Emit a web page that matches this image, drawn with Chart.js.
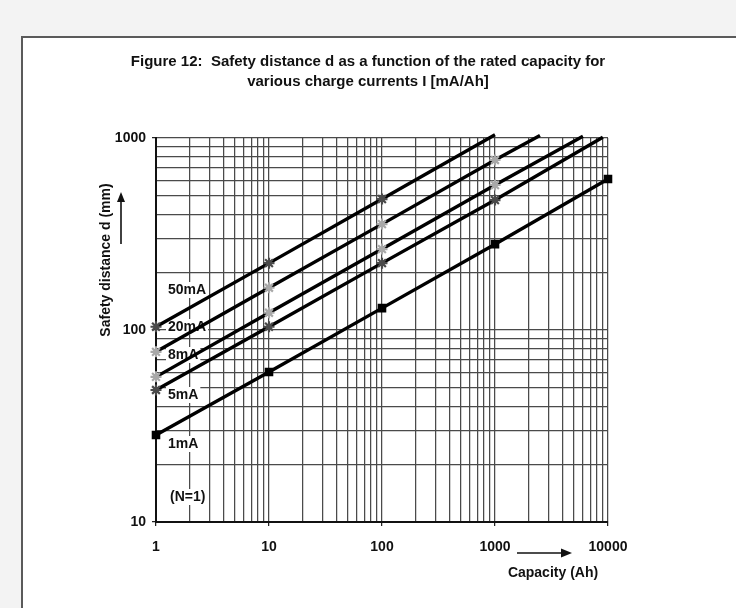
<!DOCTYPE html>
<html><head><meta charset="utf-8">
<script src="https://cdn.jsdelivr.net/npm/chart.js@4.4.0/dist/chart.umd.min.js"></script>
<style>
html,body{margin:0;padding:0;background:#f3f3f3;}
#wrap{position:relative;width:736px;height:608px;overflow:hidden;background:#f3f3f3;}
#frame{position:absolute;left:21px;top:36px;width:730px;height:600px;background:#fff;border-top:2px solid #5a5a5a;border-left:2px solid #5a5a5a;}
canvas{position:absolute;left:0;top:0;}
</style></head><body>
<div id="wrap"><div id="frame"></div><canvas id="c" width="736" height="608"></canvas></div>
<script>
// ---- data ----
const cap50 = [1, 10, 100, 1000];
const d50   = [104, 223, 481, 1040];
const cap20 = [1, 10, 100, 1000, 2500];
const d20   = [77, 166, 356, 768, 1030];
const cap8  = [1, 10, 100, 1000, 6000];
const d8    = [57, 123, 264, 569, 1020];
const cap5  = [1, 10, 100, 1000, 9000];
const d5    = [48.7, 104, 223, 475, 1010];
const cap1  = [1, 10, 100, 1000, 10000];
const d1    = [28.4, 60.4, 130, 280, 611];

const seriesLabels = ['50mA', '20mA', '8mA', '5mA', '1mA'];
const xDecades = [1, 10, 100, 1000];
const yDecades = [10, 100];
const gridSteps = [1, 2, 3, 4, 5, 6, 7, 8, 9];
const xTickLabels = ['1', '10', '100', '1000', '10000'];
const yTickLabels = ['10', '100', '1000'];

const xTicks = [];
xDecades.forEach(d => gridSteps.forEach(s => xTicks.push(d * s)));
xTicks.push(10000);
const yTicks = [];
yDecades.forEach(d => gridSteps.forEach(s => yTicks.push(d * s)));
yTicks.push(1000);

const toPts = (xs, ys) => xs.map((x, i) => ({x: x, y: ys[i]}));
const FONT = '"Liberation Sans", Arial, sans-serif';

function mk(label, xs, ys, style, color, radius) {
  return {
    label: label,
    data: toPts(xs, ys),
    borderColor: '#000',
    borderWidth: 3.4,
    tension: 0,
    clip: false,
    pointStyle: style,
    pointRadius: ctx => (ctx.raw && ctx.raw.y > 1000) ? 0 : radius,
    pointHoverRadius: ctx => (ctx.raw && ctx.raw.y > 1000) ? 0 : radius,
    pointBorderColor: color,
    pointBackgroundColor: color,
    pointBorderWidth: 2.2
  };
}

const datasets = [
  mk(seriesLabels[0], cap50, d50, 'star', '#4a4a4a', 5.5),
  mk(seriesLabels[1], cap20, d20, 'star', '#a8a8a8', 5.5),
  mk(seriesLabels[2], cap8, d8, 'star', '#a8a8a8', 5.5),
  mk(seriesLabels[3], cap5, d5, 'star', '#4a4a4a', 5.5),
  mk(seriesLabels[4], cap1, d1, 'rect', '#000', 4.5)
];

const labelPos = [
  [168, 290], [168, 327], [168, 355], [168, 395], [168, 444]
];

function arrowHead(ctx, x, y, dir) {
  ctx.beginPath();
  if (dir === 'up') { ctx.moveTo(x, y); ctx.lineTo(x - 4, y + 10); ctx.lineTo(x + 4, y + 10); }
  else { ctx.moveTo(x, y); ctx.lineTo(x - 11, y - 4.5); ctx.lineTo(x - 11, y + 4.5); }
  ctx.closePath(); ctx.fill();
}

const annot = {
  id: 'annot',
  beforeDatasetsDraw(chart) {
    const ctx = chart.ctx;
    ctx.save();
    ctx.font = 'bold 14px ' + FONT;
    ctx.textBaseline = 'middle';
    ctx.textAlign = 'left';
    const all = seriesLabels.map((t, i) => [t, labelPos[i]]);
    all.push(['(N=1)', [170, 497]]);
    all.forEach(([t, p]) => {
      const w = ctx.measureText(t).width;
      ctx.fillStyle = '#fff';
      ctx.fillRect(p[0] - 2, p[1] - 8, w + 4, 16);
      ctx.fillStyle = '#111';
      ctx.fillText(t, p[0], p[1]);
    });
    ctx.restore();
  },
  afterDraw(chart) {
    const ctx = chart.ctx;
    ctx.save();
    ctx.fillStyle = '#111';
    ctx.strokeStyle = '#111';
    ctx.font = 'bold 15px ' + FONT;
    ctx.textAlign = 'center';
    ctx.textBaseline = 'middle';
    ctx.fillText('Figure 12:  Safety distance d as a function of the rated capacity for', 368, 62);
    ctx.fillText('various charge currents I [mA/Ah]', 368, 82);
    ctx.font = 'bold 14px ' + FONT;
    ctx.fillText('Capacity (Ah)', 553, 573);
    // y title
    ctx.save();
    ctx.translate(106, 260);
    ctx.rotate(-Math.PI / 2);
    ctx.fillText('Safety distance d (mm)', 0, 0);
    ctx.restore();
    // arrows
    ctx.lineWidth = 1.6;
    ctx.beginPath(); ctx.moveTo(121, 244); ctx.lineTo(121, 200); ctx.stroke();
    arrowHead(ctx, 121, 192, 'up');
    ctx.beginPath(); ctx.moveTo(517, 553); ctx.lineTo(562, 553); ctx.stroke();
    arrowHead(ctx, 572, 553, 'right');
    ctx.restore();
  }
};

const isMajorX = v => xTickLabels.includes(String(v));
const isMajorY = v => yTickLabels.includes(String(v));

new Chart(document.getElementById('c'), {
  type: 'line',
  data: { datasets: datasets },
  options: {
    responsive: false,
    animation: false,
    events: [],
    layout: { padding: { left: 106, top: 138, right: 128, bottom: 56 } },
    plugins: { legend: { display: false }, tooltip: { enabled: false }, title: { display: false } },
    scales: {
      x: {
        type: 'logarithmic', min: 1, max: 10000,
        afterBuildTicks: s => { s.ticks = xTicks.map(v => ({value: v})); },
        afterFit: s => { s.height = 30; },
        ticks: {
          autoSkip: false, maxRotation: 0, minRotation: 0, padding: 13,
          color: '#111', font: { family: FONT, size: 14, weight: 'bold' },
          callback: v => isMajorX(v) ? String(v) : ''
        },
        grid: {
          color: '#4a4a4a', lineWidth: 1.25, tickLength: 4,
          tickColor: c => (c.tick && isMajorX(c.tick.value)) ? '#222' : 'rgba(0,0,0,0)'
        },
        border: { display: true, color: '#111', width: 2 }
      },
      y: {
        type: 'logarithmic', min: 10, max: 1000,
        afterBuildTicks: s => { s.ticks = yTicks.map(v => ({value: v})); },
        afterFit: s => { s.width = 50; },
        ticks: {
          autoSkip: false, padding: 6,
          color: '#111', font: { family: FONT, size: 14, weight: 'bold' },
          callback: v => isMajorY(v) ? String(v) : ''
        },
        grid: {
          color: '#4a4a4a', lineWidth: 1.25, tickLength: 4,
          tickColor: c => (c.tick && isMajorY(c.tick.value)) ? '#222' : 'rgba(0,0,0,0)'
        },
        border: { display: true, color: '#111', width: 2 }
      }
    }
  },
  plugins: [annot]
});
</script>
</body></html>
